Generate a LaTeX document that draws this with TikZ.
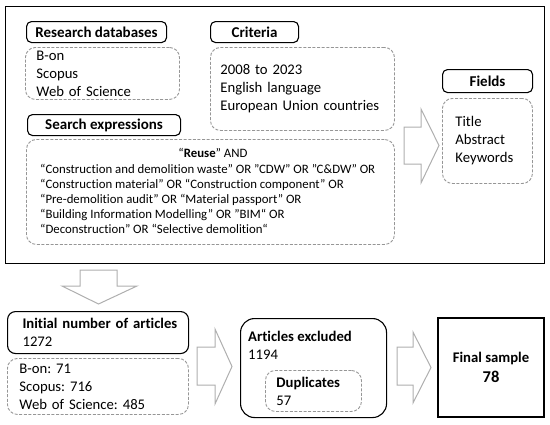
\documentclass[tikz,border=0pt]{standalone}
\usepackage{fontspec}
\setmainfont[Ligatures={NoCommon}]{Carlito}
\definecolor{dgrey}{RGB}{150,150,150}
\definecolor{agrey}{RGB}{175,175,175}
\tikzset{
  frame/.style={draw=black, line width=1.3pt, inner sep=0pt},
  hdr/.style={draw=black, line width=1.1pt, rounded corners=5pt, inner sep=0pt, font=\fontsize{15}{17}\selectfont\bfseries, align=center},
  dbox/.style={draw=dgrey, line width=0.9pt, dash pattern=on 3pt off 1.6pt, rounded corners=10pt, inner ysep=0pt, align=left, font=\fontsize{14.7}{18}\selectfont},
  solidbox/.style={draw=black, line width=1.1pt, inner ysep=0pt, align=left, font=\fontsize{14.7}{18}\selectfont},
  setxt/.style={inner sep=0pt, font=\fontsize{12.8}{15.2}\selectfont},
  bigarrow/.style={draw=agrey, line width=1pt, fill=white, line join=miter},
}
\begin{document}
\frenchspacing
\begin{tikzpicture}[x=1pt,y=-1pt]
\useasboundingbox (0,0) rectangle (550,424);
% outer frame
\node[frame, minimum width=539pt, minimum height=257pt, anchor=north west] (outer) at (5,6) {};
% research databases
\node[hdr, minimum width=140pt, minimum height=21pt, anchor=north west] (dbh) at (26,21) {Research databases};
\node[dbox, minimum width=154pt, minimum height=52pt, text width=132pt, inner xsep=11pt, anchor=north west] (dbb) at (25,47) {B-on\\Scopus\\Web of Science};
% criteria
\node[hdr, minimum width=88pt, minimum height=21pt, anchor=north west] (crh) at (210,21) {Criteria};
\node[dbox, minimum width=184pt, minimum height=83pt, text width=164pt, inner xsep=10pt, anchor=north west] (crb) at (210,47) {2008 to 2023\\English language\\European Union countries};
% search expressions
\node[hdr, minimum width=153pt, minimum height=21pt, anchor=north west] (seh) at (27,114) {Search expressions};
\node[dbox, minimum width=368pt, minimum height=105pt, anchor=north west] (seb) at (26,139) {};
\node[setxt] (se1) at (213,153) {“\textbf{Reuse}" AND};
\node[setxt, align=left, anchor=west] (se2) at (40,199) {“Construction and demolition waste" OR "CDW" OR "C\&DW" OR\\
“Construction material" OR “Construction component” OR\\
“Pre-demolition audit” OR “Material passport" OR\\
“Building Information Modelling" OR "BIM“ OR\\
“Deconstruction" OR “Selective demolition“};
% fields
\node[hdr, minimum width=90pt, minimum height=23pt, anchor=north west] (fih) at (442,69) {Fields};
\node[dbox, minimum width=90pt, minimum height=85pt, text width=64pt, inner xsep=13pt, anchor=north west] (fib) at (442,98) {Title\\Abstract\\Keywords};
% arrow to fields
\draw[bigarrow] (404,127) -- (421,127) -- (421,109) -- (439,145.5) -- (421,183) -- (421,164) -- (404,164) -- cycle;
% down arrow
\draw[bigarrow] (80,270) -- (117,270) -- (117,286) -- (137,286) -- (98.5,304) -- (62,286) -- (80,286) -- cycle;
% initial number
\node[solidbox, rounded corners=8pt, minimum width=181pt, minimum height=42pt, text width=151pt, inner xsep=15pt, anchor=north west] (inh) at (7,311) {\mbox{\textbf{Initial number of articles}}\\1272};
\node[dbox, minimum width=181pt, minimum height=56pt, text width=157pt, inner xsep=12pt, anchor=north west] (inb) at (7,358) {B-on: 71\\Scopus: 716\\Web of Science: 485};
% arrow 1
\draw[bigarrow] (197,347) -- (215,347) -- (215,329) -- (232,366.5) -- (215,404) -- (215,385) -- (197,385) -- cycle;
% articles excluded
\node[draw=black, line width=1.1pt, rounded corners=14pt, minimum width=146pt, minimum height=99pt, anchor=north west] (exb) at (240,318) {};
\node[font=\fontsize{14.7}{18}\selectfont, align=left, anchor=north west, inner sep=0pt] (ext) at (248,331) {\textbf{Articles excluded}\\1194};
\node[dbox, minimum width=96pt, minimum height=41pt, text width=74pt, inner xsep=11pt, anchor=north west] (dup) at (265,370) {\textbf{Duplicates}\\57};
% arrow 2
\draw[bigarrow] (397,347) -- (413,347) -- (413,332) -- (431,367.5) -- (413,403) -- (413,385) -- (397,385) -- cycle;
% final sample
\node[draw=black, line width=2pt, minimum width=106pt, minimum height=99pt, anchor=north west, align=center, font=\fontsize{14.7}{20}\selectfont\bfseries] (fin) at (437,317) {Final sample\\{\fontsize{16.5}{20}\selectfont 78}};
\end{tikzpicture}
\end{document}
